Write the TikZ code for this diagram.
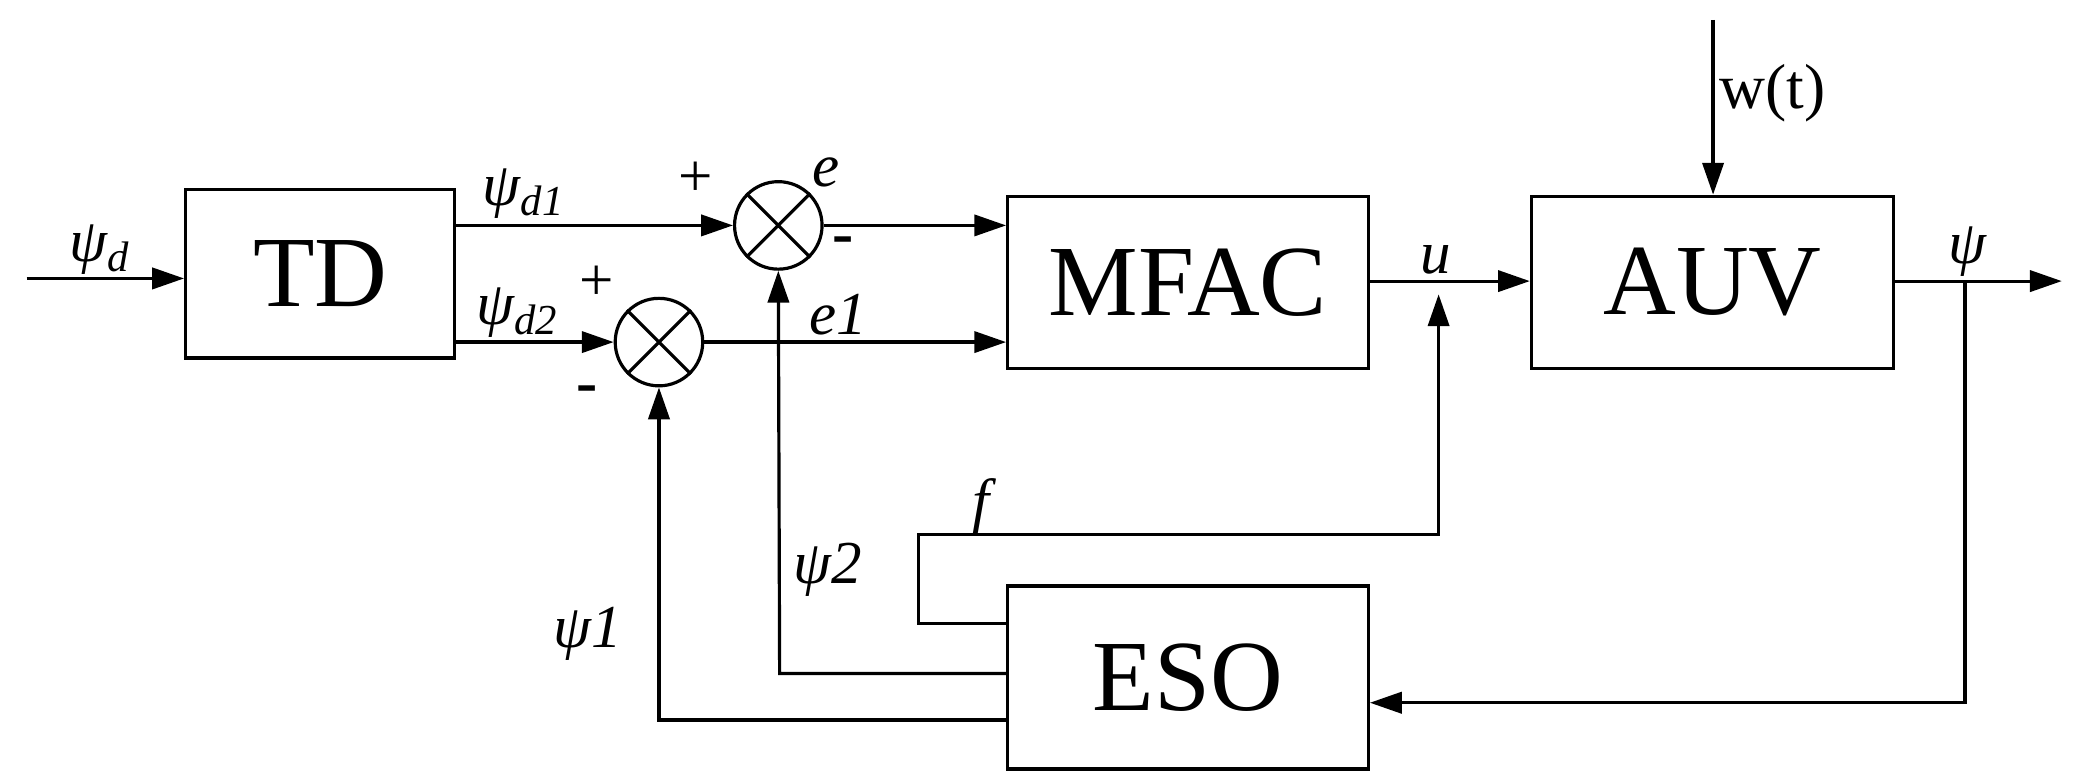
\documentclass[tikz,border=0pt]{standalone}
\usepackage{fontspec}
\setmainfont{Liberation Serif}
\usetikzlibrary{arrows.meta}
\begin{document}
\begin{tikzpicture}[x=0.5pt,y=-0.5pt,
  line width=1.2pt,
  arr/.style={-{Triangle[length=12pt,width=8pt]}},
  blk/.style={draw,line width=1.2pt,inner sep=0pt,font=\fontsize{38}{38}\selectfont},
  sum/.style={draw,circle,minimum size=33pt,inner sep=0pt,line width=1.2pt},
  lbl/.style={font=\fontsize{23}{23}\selectfont\itshape,inner sep=0pt},
  sg/.style={font=\fontsize{24}{24}\selectfont\bfseries,inner sep=0pt}]
\useasboundingbox (0,0) rectangle (1568,590);
\node[blk,minimum width=101.5pt,minimum height=63.5pt] (td) at (241.5,206.5) {TD};
\node[blk,minimum width=136pt,minimum height=65pt] (mfac) at (896,213) {MFAC};
\node[blk,minimum width=136.5pt,minimum height=65pt] (auv) at (1291.5,213) {AUV};
\node[blk,minimum width=136pt,minimum height=69pt] (eso) at (896,511) {ESO};
\node[sum] (s1) at (587,170) {};
\node[sum] (s2) at (497,258) {};
\foreach \s in {s1,s2}{
  \draw[line width=1.2pt] (\s.north west)--(\s.south east) (\s.north east)--(\s.south west);}
\coordinate (in) at (20,210);
\coordinate (out) at (1555,212);
\coordinate (wt) at (1292,15);
\coordinate (ju) at (1085,212);
\coordinate (jy) at (1482,212);
% forward
\draw[arr] (in) -- (td.west |- in);
\draw[arr] (td.east |- s1) -- (s1.west);
\draw[arr] (td.east |- s2) -- (s2.west);
\draw[arr] (s1.east) -- (mfac.west |- s1);
\draw[arr] (s2.east) -- (mfac.west |- s2);
\draw[arr] (mfac.east |- ju) -- (auv.west |- ju);
\draw[arr] (auv.east |- out) -- (out);
\draw[arr] (wt) -- (auv.north -| wt);
% feedback
\draw[arr] (jy) -- (1482,530) -- (eso.east |- 0,530);
\draw[arr] (eso.west |- 0,470) -- (693,470) -- (693,403) -- (1085,403) -- (1085,222);
\draw[arr] (eso.west |- 0,508) -- (588,508) -- (s1.south);
\draw[arr] (eso.west |- 0,543) -- (497,543) -- (s2.south);
% labels
\node[lbl] at (75,188) {ψ\textsubscript{d}};
\node[lbl] at (395,146) {ψ\textsubscript{d1}};
\node[lbl] at (390,236) {ψ\textsubscript{d2}};
\node[lbl,font=\fontsize{23}{23}\selectfont] at (525,135) {+};
\node[lbl,font=\fontsize{23}{23}\selectfont] at (450,214) {+};
\node[sg] at (636,185) {-};
\node[sg] at (443,298) {-};
\node[lbl] at (623,130) {e};
\node[lbl] at (632,237) {e1};
\node[lbl] at (1083,196) {u};
\node[lbl] at (1484,190) {ψ};
\node[lbl,font=\fontsize{24}{24}\selectfont] at (1337,70) {w(t)};
\node[lbl] at (740,382) {f};
\node[lbl] at (624,430) {ψ2};
\node[lbl] at (443,478) {ψ1};
\end{tikzpicture}
\end{document}
